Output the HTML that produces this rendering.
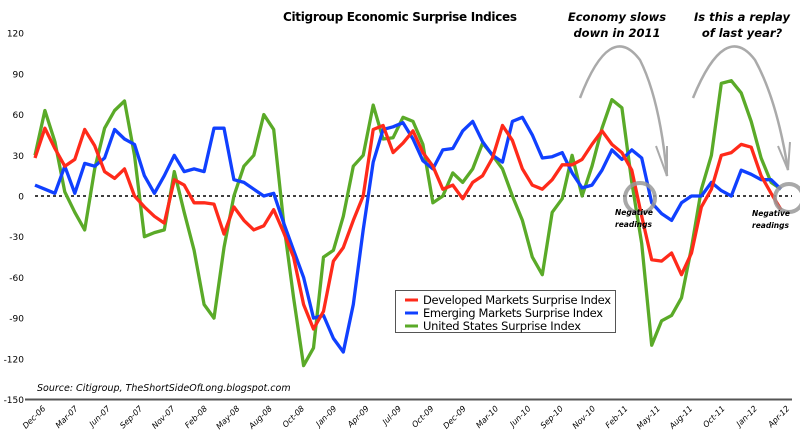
<!DOCTYPE html>
<html><head><meta charset="utf-8">
<style>
body{margin:0;background:#fff;}
svg{display:block;font-family:"DejaVu Sans","Liberation Sans",sans-serif;}
</style></head>
<body>
<svg id="chart" width="800" height="439" viewBox="0 0 800 439">
<text x="400" y="21" text-anchor="middle" font-size="12" font-weight="bold" textLength="234">Citigroup Economic Surprise Indices</text>
<g id="yaxis"></g>
<g id="xaxis"></g>
<line x1="35" x2="792" y1="196" y2="196" stroke="#000" stroke-width="1.5" stroke-dasharray="3,3"/>
<g id="series"></g>
<line x1="25" x2="792" y1="399.5" y2="399.5" stroke="#555" stroke-width="2"/>
<text x="37" y="391" font-size="9.5" font-style="italic">Source: Citigroup, TheShortSideOfLong.blogspot.com</text>
<g>
<rect x="395.5" y="290.5" width="220" height="42" fill="#fff" stroke="#555"/>
<line x1="405" x2="418" y1="300" y2="300" stroke="#ff2a1a" stroke-width="3"/>
<text x="423" y="304" font-size="11.5" textLength="188">Developed Markets Surprise Index</text>
<line x1="405" x2="418" y1="313" y2="313" stroke="#1040ff" stroke-width="3"/>
<text x="423" y="317" font-size="11.5" textLength="180">Emerging Markets Surprise Index</text>
<line x1="405" x2="418" y1="326" y2="326" stroke="#5aaa28" stroke-width="3"/>
<text x="423" y="330" font-size="11.5" textLength="158">United States Surprise Index</text>
</g>
<g font-style="italic" font-weight="bold">
<text x="617" y="21" text-anchor="middle" font-size="11.5">Economy slows</text>
<text x="617" y="37" text-anchor="middle" font-size="11.5">down in  2011</text>
<text x="742" y="21" text-anchor="middle" font-size="11.5">Is this a replay</text>
<text x="742" y="37" text-anchor="middle" font-size="11.5">of last year?</text>
<path d="M580 98 Q610 20 640 60 Q660 100 667 176" fill="none" stroke="#aaa" stroke-width="2.5"/>
<path d="M656 146 L667 176 L667 146" fill="none" stroke="#aaa" stroke-width="2"/>
<path d="M693 98 Q725 20 755 60 Q777 100 788 170" fill="none" stroke="#aaa" stroke-width="2.5"/>
<path d="M778 146 L788 170 L790 142" fill="none" stroke="#aaa" stroke-width="2"/>
<circle cx="640" cy="198" r="15" fill="none" stroke="#999" stroke-width="4" opacity="0.85"/>
<circle cx="789" cy="198" r="14" fill="none" stroke="#999" stroke-width="4" opacity="0.85"/>
<text x="615" y="215" font-size="7.5" font-weight="bold">Negative</text>
<text x="615" y="227" font-size="7.5" font-weight="bold">readings</text>
<text x="752" y="216" font-size="7.5" font-weight="bold">Negative</text>
<text x="752" y="228" font-size="7.5" font-weight="bold">readings</text>
</g>
</svg>
<script>
const yTicks = [120, 90, 60, 30, 0, -30, -60, -90, -120, -150];
const xLabels = ["Dec-06","Mar-07","Jun-07","Sep-07","Nov-07","Feb-08","May-08","Aug-08","Oct-08","Jan-09","Apr-09","Jul-09","Oct-09","Dec-09","Mar-10","Jun-10","Sep-10","Nov-10","Feb-11","May-11","Aug-11","Oct-11","Jan-12","Apr-12"];
const developed = [28,50,35,22,27,49,37,18,13,20,0,-8,-15,-20,12,8,-5,-5,-6,-28,-8,-18,-25,-22,-10,-27,-45,-80,-98,-85,-48,-38,-18,0,49,52,32,39,48,32,22,5,8,-2,10,15,28,52,41,20,8,5,12,23,23,27,38,48,38,32,19,-15,-47,-48,-42,-58,-42,-8,5,30,32,38,36,15,2,-10];
const emerging = [8,5,2,22,2,24,22,28,49,42,38,15,2,15,30,18,20,18,50,50,12,10,5,0,2,-20,-40,-60,-90,-88,-105,-115,-80,-25,25,49,51,54,42,26,20,34,35,48,55,40,30,25,55,58,45,28,29,32,17,6,8,19,34,27,34,28,-5,-13,-18,-5,0,0,10,4,0,19,16,12,12,5];
const unitedStates = [30,63,40,3,-12,-25,20,50,63,70,30,-30,-27,-25,18,-12,-40,-80,-90,-38,0,22,30,60,49,-20,-75,-125,-112,-45,-40,-15,22,30,67,42,43,58,55,38,-5,0,17,10,20,39,30,20,0,-18,-45,-58,-12,-2,30,0,22,50,71,65,10,-35,-110,-92,-88,-75,-38,5,30,83,85,76,55,28,10,5];

const NS = "http://www.w3.org/2000/svg";
const X0 = 35, X1 = 781, Y0 = 196, PX_PER_UNIT = 40.7/30;
function yScale(v){ return Y0 - v*PX_PER_UNIT; }
function xScale(i, n){ return X0 + i*(X1-X0)/(n-1); }

const yg = document.getElementById('yaxis');
yTicks.forEach(t => {
  const tx = document.createElementNS(NS,'text');
  tx.setAttribute('x', 24); tx.setAttribute('y', yScale(t)+3.5);
  tx.setAttribute('text-anchor','end'); tx.setAttribute('font-size','9');
  tx.textContent = t;
  
  
  yg.appendChild(tx);
});

const xg = document.getElementById('xaxis');
xLabels.forEach((l, i) => {
  const x = 46 + i*(790-46)/(xLabels.length-1);
  const tx = document.createElementNS(NS,'text');
  tx.setAttribute('x', x); tx.setAttribute('y', 409);
  tx.setAttribute('text-anchor','end'); tx.setAttribute('font-size','8');
  tx.setAttribute('font-style','italic');
  tx.setAttribute('transform', `rotate(-45 ${x} 409)`);
  tx.textContent = l;
  
  
  xg.appendChild(tx);
});

const sg = document.getElementById('series');
function drawLine(arr, color, name){
  const pts = arr.map((v,i) => xScale(i, arr.length).toFixed(1)+','+yScale(v).toFixed(1)).join(' ');
  const pl = document.createElementNS(NS,'polyline');
  pl.setAttribute('points', pts);
  pl.setAttribute('fill','none'); pl.setAttribute('stroke', color);
  pl.setAttribute('stroke-width','3.3'); pl.setAttribute('stroke-linejoin','round');
  
  
  sg.appendChild(pl);
}
drawLine(unitedStates, '#5aaa28', 'us-surprise-line');
drawLine(emerging, '#1040ff', 'emerging-surprise-line');
drawLine(developed, '#ff2a1a', 'developed-surprise-line');
</script>
</body></html>
